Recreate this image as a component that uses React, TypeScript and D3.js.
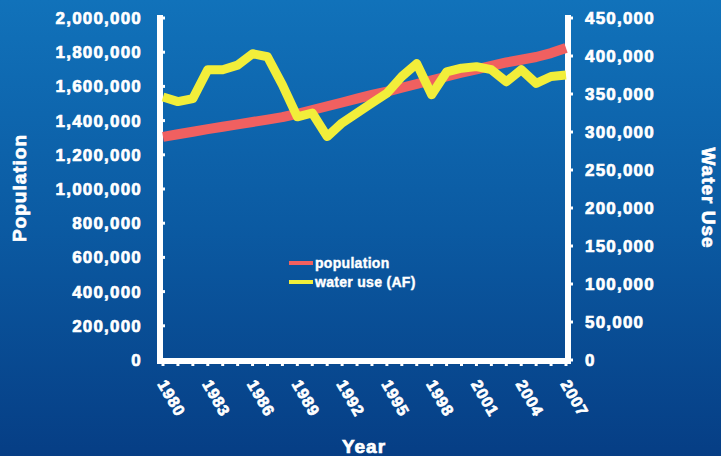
import React from "react";
import * as d3 from "d3";

const years = [1980, 1981, 1982, 1983, 1984, 1985, 1986, 1987, 1988, 1989, 1990, 1991, 1992, 1993, 1994, 1995, 1996, 1997, 1998, 1999, 2000, 2001, 2002, 2003, 2004, 2005, 2006, 2007];
const population = [1305000, 1320000, 1335000, 1350000, 1364000, 1378000, 1392000, 1406000, 1420000, 1440000, 1462000, 1484000, 1506000, 1528000, 1550000, 1570000, 1592000, 1614000, 1636000, 1658000, 1680000, 1700000, 1720000, 1740000, 1756000, 1772000, 1795000, 1825000];
const waterUse = [346000, 340000, 344000, 382000, 382000, 388000, 403000, 399000, 362000, 320000, 325000, 294000, 312000, 325000, 338000, 351000, 373000, 390000, 349000, 379000, 384000, 386000, 382000, 366000, 382000, 364000, 373000, 375000];
const xTickYears = [1980, 1983, 1986, 1989, 1992, 1995, 1998, 2001, 2004, 2007];
const leftTicks = [0, 200000, 400000, 600000, 800000, 1000000, 1200000, 1400000, 1600000, 1800000, 2000000];
const rightTicks = [0, 50000, 100000, 150000, 200000, 250000, 300000, 350000, 400000, 450000];
const seriesNames = ["population", "water use (AF)"];
const seriesColors = ["#f06060", "#f2ee3a"];

const W = 721, H = 456;
const FONT = "'Liberation Sans', Arial, sans-serif";

export default function App() {
  const x = d3.scalePoint<number>().domain(years).range([163, 566]);
  const yL = d3.scaleLinear().domain([0, 2000000]).range([360, 18]);
  const yR = d3.scaleLinear().domain([0, 450000]).range([360, 18]);
  const fmt = d3.format(",");
  const popLine = d3.line<number>().x((_, i) => x(years[i])!).y((d) => yL(d));
  const waterLine = d3.line<number>().x((_, i) => x(years[i])!).y((d) => yR(d));
  const axL = 160, axR = 568, axB = 361;
  const textStyle = { fill: "#fff", fontFamily: FONT, fontWeight: 700 as const, stroke: "#fff", strokeWidth: 0.7 };

  return (
    <svg width={W} height={H} style={{ position: "absolute", left: 0, top: 0 }}>
      <defs>
        <linearGradient id="bg" x1="0" y1="0" x2="0" y2="1">
          <stop offset="0" stopColor="#1172ba" />
          <stop offset="0.5" stopColor="#0b5aa2" />
          <stop offset="1" stopColor="#063e85" />
        </linearGradient>
      </defs>
      <rect x={0} y={0} width={W} height={H} fill="url(#bg)" />

      {/* axes */}
      <path d={`M${axL},15V${axB}H${axR}V15`} fill="none" stroke="#fff" strokeWidth={6} />
      {leftTicks.map((t) => (
        <line key={"lt" + t} x1={axL} x2={axL + 5} y1={yL(t)} y2={yL(t)} stroke="#fff" strokeWidth={3} />
      ))}
      {rightTicks.map((t) => (
        <line key={"rt" + t} x1={axR} x2={axR + 5} y1={yR(t)} y2={yR(t)} stroke="#fff" strokeWidth={3} />
      ))}
      {years.map((yr) => (
        <line key={"bt" + yr} x1={x(yr)!} x2={x(yr)!} y1={axB} y2={axB + 5} stroke="#fff" strokeWidth={3} />
      ))}

      {/* axis labels */}
      {leftTicks.map((t) => (
        <text key={"ll" + t} x={142} y={yL(t)} dy="0.35em" textAnchor="end" fontSize={17} letterSpacing={1.2} style={textStyle}>
          {fmt(t)}
        </text>
      ))}
      {rightTicks.map((t) => (
        <text key={"rl" + t} x={585} y={yR(t)} dy="0.35em" textAnchor="start" fontSize={17} letterSpacing={1.2} style={textStyle}>
          {fmt(t)}
        </text>
      ))}
      {xTickYears.map((yr) => (
        <text key={"xl" + yr} transform={`translate(${x(yr)! - 6},${384}) rotate(60)`} fontSize={16} letterSpacing={0.8} style={textStyle}>
          {yr}
        </text>
      ))}

      {/* titles */}
      <text transform={`translate(26,188) rotate(-90)`} textAnchor="middle" fontSize={19} letterSpacing={1} style={textStyle}>Population</text>
      <text transform={`translate(702,198) rotate(90)`} textAnchor="middle" fontSize={19} letterSpacing={1} style={textStyle}>Water Use</text>
      <text x={364} y={453} textAnchor="middle" fontSize={19} letterSpacing={1} style={textStyle}>Year</text>

      {/* lines */}
      <path d={popLine(population)!} fill="none" stroke={seriesColors[0]} strokeWidth={10} strokeLinejoin="round" />
      <path d={waterLine(waterUse)!} fill="none" stroke={seriesColors[1]} strokeWidth={9} strokeLinejoin="round" />

      {/* legend */}
      {seriesNames.map((n, i) => (
        <g key={n} transform={`translate(289,${263 + i * 19})`}>
          <line x1={0} x2={24} y1={0} y2={0} stroke={seriesColors[i]} strokeWidth={4} />
          <text x={26} y={0} dy="0.35em" fontSize={14} letterSpacing={0.3} style={{ ...textStyle, strokeWidth: 0.4 }}>{n}</text>
        </g>
      ))}
    </svg>
  );
}
